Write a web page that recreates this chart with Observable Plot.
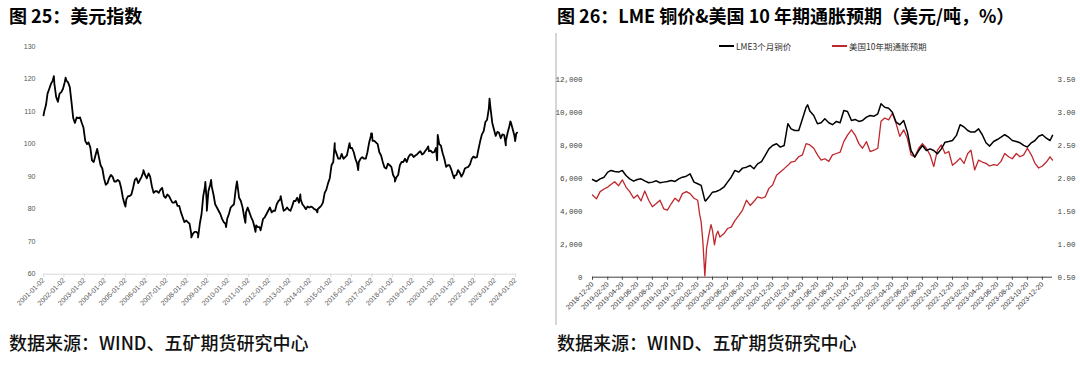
<!DOCTYPE html>
<html><head><meta charset="utf-8">
<script src="https://cdn.jsdelivr.net/npm/d3@7"></script>
<script src="https://cdn.jsdelivr.net/npm/@observablehq/plot@0.6"></script>
<style>
body{margin:0;background:#fff;}
#wrap{position:relative;width:1080px;height:365px;overflow:hidden;font-family:"Noto Sans CJK SC","Noto Sans",sans-serif;}
.title{position:absolute;top:3px;font-size:18px;font-weight:700;color:#000;white-space:nowrap;line-height:24px;}
.cap{position:absolute;top:330px;font-size:18px;font-weight:500;color:#111;white-space:nowrap;line-height:24px;}
#left{position:absolute;left:0;top:35px;}
#right{position:absolute;left:556px;top:35px;}
#sep{position:absolute;left:555px;top:33px;width:2px;height:292px;background:#d6d6d6;}
.leg{position:absolute;top:40px;font-size:8.5px;color:#333;display:flex;align-items:center;white-space:nowrap;line-height:12px;}
.sw{display:inline-block;width:15px;height:2px;margin-right:2px;}
</style></head>
<body><div id="wrap">
<div class="title" style="left:9px">图 25：美元指数</div>
<div class="title" style="left:557px">图 26：LME 铜价&amp;美国 10 年期通胀预期（美元/吨，%）</div>
<div id="left"></div>
<div id="sep"></div>
<div id="right"></div>
<div class="leg" style="left:719px"><span class="sw" style="background:#000"></span>LME3个月铜价</div>
<div class="leg" style="left:832px"><span class="sw" style="background:#c0272d"></span>美国10年期通胀预期</div>
<div class="cap" style="left:9px">数据来源：WIND、五矿期货研究中心</div>
<div class="cap" style="left:557px">数据来源：WIND、五矿期货研究中心</div>
</div>
<script>
// ---------- Chart 25: US dollar index ----------
const dxyStartYear = 2001;
const dxyMonthly = [
 110,112,115.5,117,118.5,119.5,118.5,114.5,113,115.5,116,117,
 119,119.5,119,117.5,113,108,106.5,108.2,108,108.2,106.5,105,
 101,100,100.5,99,95,94.5,96.5,98.5,96,93.5,92.5,89.5,
 87.5,88,89.5,90.5,90,88.5,88.5,89,88.5,86.5,83.5,81.5,
 83,84,84,84.5,86.5,89,89.5,88,89,90,91.5,90.5,
 89.5,91,90,87,85,85.5,85.5,85,86,86.5,84,83.5,
 84.5,84,83,82,82,82.5,81,81,79,77.5,76,76.5,
 76,75.5,72.5,72.5,73,73,72.5,75.5,78.5,84,87,82.5,
 85.5,87.5,87,84.5,81.5,80.5,79.5,78.5,77,76,75.5,77,
 78.5,80.5,81,81.5,86,87.5,83.5,82.5,80.5,77.5,79,80.5,
 79,77.5,76.5,74.5,75,74.5,74.5,74.5,77,77.5,78.5,79.5,
 80.5,79,79.5,79.5,81.5,82.5,83,82,79.5,79.8,80.5,79.8,
 79.5,81,82.5,82.5,83.5,82,83,81.5,80.8,80,80.8,80.5,
 80.8,80.5,80,79.8,80,80.5,81,82,85,86,88,89.5,
 93.5,94.5,98.5,97,95.5,95.5,97,95.5,96,96.5,99,98.8,
 98.8,97.5,95.5,94,94.5,95.5,96,95.5,95.5,97.5,100.5,102.5,
 101,101,100.5,100,97.5,96.5,94.5,92.8,92.5,94,93.5,93,
 90.5,89.5,89.8,90.5,93.5,94.5,94.5,95.5,94.5,96,96.8,96.8,
 96,96.5,96.8,97.4,97.8,96.8,97.2,98,98.7,97.8,98,97.4,
 97.5,98.8,100,100,99.5,97.2,95.5,93,93.5,93.5,92.2,90.5,
 90.3,90.5,92,91.2,90,91,92.5,92.8,93,93.8,95.5,96.2,
 95.8,96,98.5,101,103,104,106.8,107.5,111,111,106.5,104.5,
 102.5,103.8,103.5,101.8,103,102.8,101,103.5,105.5,106.5,104.5,102.5,
 103.2
];
const dxyExtraDates = ["2001-01-02","2001-07-05","2002-01-31","2004-12-30","2005-11-15","2008-03-17","2008-07-15","2008-11-21","2008-12-18","2009-03-04","2009-11-25","2010-06-07","2010-11-04","2011-05-03","2011-08-01","2012-07-24","2013-07-09","2014-05-08","2015-03-13","2015-12-02","2016-05-03","2016-12-20","2017-01-03","2018-02-16","2019-10-01","2020-03-09","2020-03-19","2021-01-06","2022-09-27","2023-07-14","2023-10-03","2023-12-27","2024-01-31"];
const dxyExtraValues = [108.8,120.9,120.4,80.8,92.0,71.3,71.3,88.4,79.5,89.0,74.5,88.5,75.8,73.0,73.5,84.0,84.5,79.0,100.3,100.3,92.0,103.3,103.3,88.5,99.3,95.0,102.8,89.5,114.0,99.6,107.0,100.9,103.5];
const dxyTickLabels = ["2001-01-02","2002-01-02","2003-01-02","2004-01-02","2005-01-02","2006-01-02","2007-01-02","2008-01-02","2009-01-02","2010-01-02","2011-01-02","2012-01-02","2013-01-02","2014-01-02","2015-01-02","2016-01-02","2017-01-02","2018-01-02","2019-01-02","2020-01-02","2021-01-02","2022-01-02","2023-01-02","2024-01-02"];
const dxyYTicks = [60,70,80,90,100,110,120,130];

// ---------- Chart 26: LME copper & US 10Y breakeven ----------
const rDates = ["2018-12-20","2019-01-05","2019-01-20","2019-02-05","2019-02-20","2019-03-05","2019-03-20","2019-04-05","2019-04-20","2019-05-05","2019-05-20","2019-06-05","2019-06-20","2019-07-05","2019-07-20","2019-08-05","2019-08-20","2019-09-05","2019-09-20","2019-10-05","2019-10-20","2019-11-05","2019-11-20","2019-12-05","2019-12-20",
"2020-01-05","2020-01-20","2020-02-05","2020-02-20","2020-03-05","2020-03-20","2020-04-05","2020-04-20","2020-05-05","2020-05-20","2020-06-05","2020-06-20","2020-07-05","2020-07-20","2020-08-05","2020-08-20","2020-09-05","2020-09-20","2020-10-05","2020-10-20","2020-11-05","2020-11-20","2020-12-05","2020-12-20",
"2021-01-05","2021-01-20","2021-02-05","2021-02-20","2021-03-05","2021-03-20","2021-04-05","2021-04-20","2021-05-05","2021-05-20","2021-06-05","2021-06-20","2021-07-05","2021-07-20","2021-08-05","2021-08-20","2021-09-05","2021-09-20","2021-10-05","2021-10-20","2021-11-05","2021-11-20","2021-12-05","2021-12-20",
"2022-01-05","2022-01-20","2022-02-05","2022-02-20","2022-03-05","2022-03-20","2022-04-05","2022-04-20","2022-05-05","2022-05-20","2022-06-05","2022-06-20","2022-07-05","2022-07-20","2022-08-05","2022-08-20","2022-09-05","2022-09-20","2022-10-05","2022-10-20","2022-11-05","2022-11-20","2022-12-05","2022-12-20",
"2023-01-05","2023-01-20","2023-02-05","2023-02-20","2023-03-05","2023-03-20","2023-04-05","2023-04-20","2023-05-05","2023-05-20","2023-06-05","2023-06-20","2023-07-05","2023-07-20","2023-08-05","2023-08-20","2023-09-05","2023-09-20","2023-10-05","2023-10-20","2023-11-05","2023-11-20","2023-12-05","2023-12-20",
"2024-01-05","2024-01-20","2024-01-30"];
const copper = [5940,5820,5980,6080,6390,6490,6430,6390,6490,6180,5980,5840,5940,5980,5860,5740,5780,5860,5740,5780,5820,5880,5820,5980,6080,
6140,6280,5780,5680,5580,4670,4870,5170,5210,5310,5470,5780,6080,6490,6390,6630,6690,6790,6590,6890,7030,7400,7800,8010,
8110,7910,8010,9330,9020,8920,8920,9620,10330,10100,9830,9330,9390,9630,9390,9270,9470,9390,10130,10070,9530,9590,9470,9530,
9730,9830,9790,9930,10540,10330,10270,10030,9430,9270,9530,8820,7700,7300,7700,8010,7700,7800,7700,7500,7800,8210,8250,8310,
8620,9270,9130,8920,8820,8820,9020,8660,8170,7970,8250,8370,8510,8660,8510,8310,8250,8170,8010,7910,8170,8310,8570,8660,
8450,8310,8620];
const breakeven = [1.75,1.69,1.80,1.84,1.87,1.91,1.95,1.89,1.98,1.87,1.80,1.70,1.75,1.66,1.81,1.67,1.57,1.62,1.67,1.54,1.52,1.62,1.70,1.65,1.77,
1.80,1.77,1.70,1.67,1.34,0.52,1.14,1.21,1.14,1.11,1.16,1.24,1.26,1.36,1.44,1.52,1.67,1.59,1.65,1.72,1.70,1.72,1.85,1.90,
2.05,2.10,2.15,2.20,2.25,2.26,2.33,2.36,2.53,2.51,2.46,2.36,2.28,2.30,2.26,2.36,2.38,2.40,2.56,2.66,2.74,2.66,2.53,2.46,
2.56,2.41,2.43,2.46,2.87,2.92,2.89,2.99,2.84,2.64,2.74,2.61,2.36,2.33,2.46,2.53,2.46,2.36,2.18,2.43,2.51,2.38,2.41,2.20,
2.25,2.31,2.23,2.38,2.43,2.13,2.28,2.25,2.23,2.19,2.21,2.20,2.26,2.38,2.33,2.30,2.38,2.33,2.36,2.46,2.36,2.23,2.16,2.19,
2.25,2.33,2.28];
const cuExtraDates = ["2020-03-23","2021-05-11"];
const cuExtraValues = [4630,10480];
const beExtraDates = ["2020-02-28","2020-03-12","2020-03-27","2020-04-14","2020-04-28","2020-05-12"];
const beExtraValues = [1.45,1.04,0.94,1.30,0.99,1.20];
const rTickLabels = ["2018-12-20","2019-02-20","2019-04-20","2019-06-20","2019-08-20","2019-10-20","2019-12-20","2020-02-20","2020-04-20","2020-06-20","2020-08-20","2020-10-20","2020-12-20","2021-02-20","2021-04-20","2021-06-20","2021-08-20","2021-10-20","2021-12-20","2022-02-20","2022-04-20","2022-06-20","2022-08-20","2022-10-20","2022-12-20","2023-02-20","2023-04-20","2023-06-20","2023-08-20","2023-10-20","2023-12-20"];
const cuTicks = [0,2000,4000,6000,8000,10000,12000];
const beTicks = [0.5,1.0,1.5,2.0,2.5,3.0,3.5];

// ---------- build tables ----------
const P = s => new Date(s + "T00:00:00Z");
const dxyData = dxyMonthly.map((v, i) => ({date: new Date(Date.UTC(dxyStartYear + Math.floor(i / 12), i % 12, 15)), value: v}))
  .concat(dxyExtraDates.map((d, i) => ({date: P(d), value: dxyExtraValues[i]})))
  .sort((a, b) => a.date - b.date);
const cuData = rDates.map((d, i) => ({date: P(d), value: copper[i]}))
  .concat(cuExtraDates.map((d, i) => ({date: P(d), value: cuExtraValues[i]})))
  .filter(d => d.value != null).sort((a, b) => a.date - b.date);
const beToLeft = v => (v - 0.5) * 4000; // right axis 0.5–3.5 aligned with left axis 0–12,000
const beData = rDates.map((d, i) => ({date: P(d), value: breakeven[i]}))
  .concat(beExtraDates.map((d, i) => ({date: P(d), value: beExtraValues[i]})))
  .filter(d => d.value != null).sort((a, b) => a.date - b.date);

const fmtDate = d3.utcFormat("%Y-%m-%d");

const leftChart = Plot.plot({
  width: 540, height: 290,
  marginLeft: 43, marginRight: 24, marginTop: 11, marginBottom: 51.3,
  style: {fontFamily: "'Liberation Sans', Arial, sans-serif", background: "transparent", overflow: "visible"},
  x: {type: "utc", domain: [P("2001-01-02"), P("2024-01-20")]},
  y: {domain: [60, 130]},
  marks: [
    Plot.ruleY([60], {stroke: "#d9d9d9", strokeWidth: 1}),
    Plot.axisX({ticks: dxyTickLabels.map(P), tickFormat: fmtDate, tickRotate: -45, tickSize: 3, tickPadding: 2, stroke: "#d9d9d9", fill: "#555", fontSize: 7, label: null}),
    Plot.axisY({ticks: dxyYTicks, tickSize: 0, tickPadding: 8, fill: "#555", fontSize: 7, label: null}),
    Plot.lineY(dxyData, {x: "date", y: "value", stroke: "#000", strokeWidth: 1.8, strokeLinejoin: "round"})
  ]
});
document.getElementById("left").appendChild(leftChart);

const rightChart = Plot.plot({
  width: 524, height: 290,
  marginLeft: 36, marginRight: 28, marginTop: 44.3, marginBottom: 48.3,
  style: {fontFamily: "'Liberation Sans', Arial, sans-serif", background: "transparent", overflow: "visible"},
  x: {type: "utc", domain: [P("2018-12-20"), P("2024-01-30")]},
  y: {domain: [0, 12000]},
  marks: [
    Plot.axisY({ticks: cuTicks, tickFormat: d3.format(","), tickSize: 0, tickPadding: 10, fill: "#404040", fontFamily: "'Liberation Mono', monospace", fontSize: 7.5, label: null}),
    Plot.axisY({anchor: "right", ticks: beTicks.map(beToLeft), tickFormat: (d, i) => beTicks[i].toFixed(2), tickSize: 0, tickPadding: 5, fill: "#404040", fontFamily: "'Liberation Mono', monospace", fontSize: 7.5, label: null}),
    Plot.axisX({ticks: rTickLabels.map(P), tickFormat: fmtDate, tickRotate: -45, tickSize: 3, tickPadding: 3, stroke: "#404040", fill: "#333", fontSize: 7, label: null}),
    Plot.ruleY([0], {stroke: "#404040", strokeWidth: 1}),
    Plot.lineY(beData, {x: "date", y: d => beToLeft(d.value), stroke: "#c0272d", strokeWidth: 1.3, strokeLinejoin: "round"}),
    Plot.lineY(cuData, {x: "date", y: "value", stroke: "#000", strokeWidth: 1.5, strokeLinejoin: "round"})
  ]
});
document.getElementById("right").appendChild(rightChart);
</script>
</body></html>
